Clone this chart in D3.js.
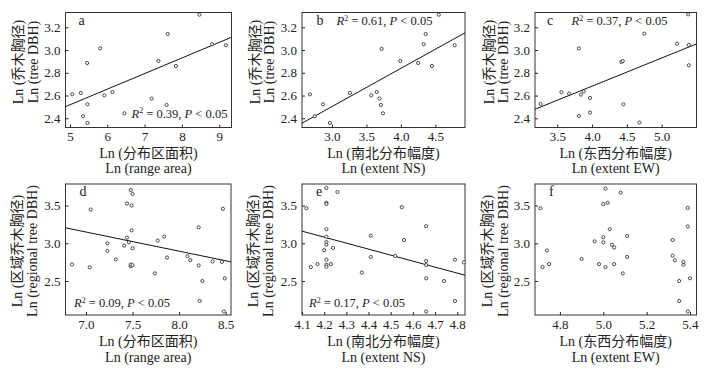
<!DOCTYPE html>
<html>
<head>
<meta charset="utf-8">
<script src="https://cdn.jsdelivr.net/npm/d3@7"></script>
<style>
body { margin: 0; background: #fff; }
svg { font-family: "Liberation Serif", "Times New Roman", "Noto Sans CJK SC", serif; }
</style>
</head>
<body>
<svg id="chart" width="714" height="371"></svg>
<script>
// ---- data ----
// a: Ln(range area) vs Ln(tree DBH)
const aX = [5.06, 5.29, 5.46, 5.35, 5.47, 5.47, 5.81, 5.92, 6.14, 6.46, 7.19, 7.37, 7.59, 7.62, 7.84, 8.47, 8.81, 9.18];
const aY = [2.611, 2.623, 2.886, 2.418, 2.523, 2.359, 3.015, 2.602, 2.631, 2.444, 2.573, 2.904, 2.517, 3.141, 2.860, 3.311, 3.051, 3.042];
// b: Ln(extent NS) vs Ln(tree DBH)
const bX = [2.68, 2.75, 2.87, 2.97, 3.26, 3.57, 3.65, 3.69, 3.71, 3.72, 3.74, 3.99, 4.25, 4.33, 4.36, 4.45, 4.55, 4.78];
const bY = [2.611, 2.418, 2.523, 2.359, 2.623, 2.602, 2.631, 2.573, 2.517, 3.010, 2.444, 2.904, 2.886, 3.051, 3.141, 2.860, 3.311, 3.042];
// c: Ln(extent EW) vs Ln(tree DBH)
const cX = [3.26, 3.56, 3.67, 3.81, 3.81, 3.84, 3.88, 3.97, 3.97, 4.42, 4.44, 4.45, 4.75, 4.68, 5.22, 5.38, 5.39, 5.39];
const cY = [2.526, 2.629, 2.617, 3.015, 2.421, 2.608, 2.637, 2.579, 2.450, 2.895, 2.904, 2.523, 3.144, 2.362, 3.056, 3.314, 3.045, 2.866];
// d: Ln(range area) vs Ln(regional tree DBH)
const dX = [6.85, 7.05, 7.04, 7.23, 7.23, 7.32, 7.41, 7.44, 7.44, 7.46, 7.48, 7.48, 7.48, 7.49, 7.49, 7.50, 7.50, 7.50,
            7.74, 7.77, 7.84, 7.87, 8.09, 8.12, 8.21, 8.21, 8.22, 8.25, 8.36, 8.46, 8.47, 8.48, 8.49];
const dY = [2.719, 3.447, 2.680, 3.000, 2.899, 2.785, 2.969, 3.526, 3.075, 3.013, 2.697, 2.719, 3.706, 3.500, 3.171, 3.654, 2.934, 2.710,
            2.601, 3.035, 3.088, 2.811, 2.829, 2.776, 3.211, 2.706, 2.237, 2.500, 2.759, 2.754, 3.456, 2.096, 2.535];
// e: Ln(extent NS) vs Ln(regional tree DBH)
const eX = [4.12, 4.14, 4.17, 4.20, 4.21, 4.21, 4.21, 4.21, 4.21, 4.21, 4.21, 4.21, 4.21, 4.21, 4.23, 4.24, 4.26,
            4.37, 4.41, 4.41, 4.52, 4.55, 4.56, 4.66, 4.66, 4.66, 4.66, 4.66, 4.74, 4.79, 4.83, 4.79];
const eY = [3.464, 2.684, 2.724, 2.908, 3.733, 3.536, 3.520, 3.186, 3.087, 3.016, 2.980, 2.783, 2.715, 2.690, 2.724, 2.939, 3.679,
            2.612, 3.101, 2.818, 2.832, 3.478, 3.043, 3.226, 2.765, 2.711, 2.536, 2.096, 2.500, 2.783, 2.747, 2.235];
// f: Ln(extent EW) vs Ln(regional tree DBH)
const fX = [4.71, 4.74, 4.72, 4.75, 4.90, 4.96, 4.98, 5.00, 5.00, 5.00, 5.01, 5.01, 5.02, 5.03, 5.04, 5.05, 5.05,
            5.08, 5.09, 5.11, 5.11, 5.32, 5.32, 5.33, 5.35, 5.35, 5.37, 5.37, 5.39, 5.39, 5.40, 5.39];
const fY = [3.464, 2.904, 2.684, 2.724, 2.792, 3.025, 2.724, 3.079, 3.012, 3.518, 2.684, 3.724, 3.536, 3.186, 2.980, 2.944, 2.724,
            3.670, 2.601, 3.097, 2.819, 3.043, 2.837, 2.774, 2.500, 2.235, 2.716, 2.752, 3.468, 3.222, 2.537, 2.098];

// fitted lines [intercept, slope]
const fitA = [1.834, 0.137];
const fitB = [1.495, 0.336];
const fitC = [1.692, 0.2476];
const fitD = [4.925, -0.2537];
const fitE = [6.416, -0.794];

const statsA = ["0.39", "0.05"];
const statsB = ["0.61", "0.05"];
const statsC = ["0.37", "0.05"];
const statsD = ["0.09", "0.05"];
const statsE = ["0.17", "0.05"];

// tick labels
const topYTicks = [2.4, 2.6, 2.8, 3.0, 3.2];
const bottomYTicks = [2.5, 3.0, 3.5];
const aXTicks = [5, 6, 7, 8, 9];
const bXTicks = [3.0, 3.5, 4.0, 4.5];
const cXTicks = [3.5, 4.0, 4.5, 5.0];
const dXTicks = [7.0, 7.5, 8.0, 8.5];
const eXTicks = [4.1, 4.2, 4.3, 4.4, 4.5, 4.6, 4.7, 4.8];
const fXTicks = [4.8, 5.0, 5.2, 5.4];

const yLabTop = ["Ln (乔木胸径)", "Ln (tree DBH)"];
const yLabBottom = ["Ln (区域乔木胸径)", "Ln (regional tree DBH)"];
const xLabArea = ["Ln (分布区面积)", "Ln (range area)"];
const xLabNS = ["Ln (南北分布幅度)", "Ln (extent NS)"];
const xLabEW = ["Ln (东西分布幅度)", "Ln (extent EW)"];

// ---- layout ----
const rowTop = { y0: 12.5, y1: 127.5, dom: [2.319, 3.33] };
const rowBot = { y0: 184, y1: 315, dom: [2.05, 3.785] };

const panels = [
    { id: "a", x0: 65.5, x1: 231.5, row: rowTop, xdom: [4.88, 9.33], xs: aX, ys: aY, xt: aXTicks, yt: topYTicks, xfmt: "d",
      fit: fitA, stats: statsA, sx: 131.5, sy: 117.5, lx: 13, xl: xLabArea, yl: yLabTop, ylx: [18, 33] },
    { id: "b", x0: 302, x1: 465, row: rowTop, xdom: [2.565, 4.93], xs: bX, ys: bY, xt: bXTicks, yt: topYTicks, xfmt: ".1f",
      fit: fitB, stats: statsB, sx: 336.5, sy: 25, lx: 14.5, xl: xLabNS, yl: yLabTop, ylx: [255, 269] },
    { id: "c", x0: 535, x1: 696.5, row: rowTop, xdom: [3.18, 5.50], xs: cX, ys: cY, xt: cXTicks, yt: topYTicks, xfmt: ".1f",
      fit: fitC, stats: statsC, sx: 571.5, sy: 25, lx: 12, xl: xLabEW, yl: yLabTop, ylx: [489, 503] },
    { id: "d", x0: 65.5, x1: 231, row: rowBot, xdom: [6.78, 8.557], xs: dX, ys: dY, xt: dXTicks, yt: bottomYTicks, xfmt: ".1f",
      fit: fitD, stats: statsD, sx: 74, sy: 307, lx: 14, xl: xLabArea, yl: yLabBottom, ylx: [17, 32] },
    { id: "e", x0: 302, x1: 465, row: rowBot, xdom: [4.10, 4.835], xs: eX, ys: eY, xt: eXTicks, yt: bottomYTicks, xfmt: ".1f",
      fit: fitE, stats: statsE, sx: 309, sy: 307, lx: 14, xl: xLabNS, yl: yLabBottom, ylx: [253, 268] },
    { id: "f", x0: 535, x1: 696.5, row: rowBot, xdom: [4.685, 5.43], xs: fX, ys: fY, xt: fXTicks, yt: bottomYTicks, xfmt: ".1f",
      fit: null, stats: null, lx: 14, xl: xLabEW, yl: yLabBottom, ylx: [487, 503] },
];

const svg = d3.select("#chart");
const ink = "#222";

function drawPanel(p) {
    const y0 = p.row.y0, y1 = p.row.y1;
    const x = d3.scaleLinear().domain(p.xdom).range([p.x0, p.x1]);
    const y = d3.scaleLinear().domain(p.row.dom).range([y1, y0]);
    const g = svg.append("g").attr("class", "panel-" + p.id);

    // axes with inward ticks
    const gx = g.append("g")
        .attr("transform", `translate(0,${y1})`)
        .call(d3.axisBottom(x).tickValues(p.xt).tickFormat(d3.format(p.xfmt)).tickSize(-3).tickPadding(4.5));
    const gy = g.append("g")
        .attr("transform", `translate(${p.x0},0)`)
        .call(d3.axisLeft(y).tickValues(p.yt).tickFormat(d3.format(".1f")).tickSize(-3).tickPadding(5));
    [gx, gy].forEach(a => {
        a.attr("font-family", null).attr("font-size", 13);
        a.select(".domain").remove();
        a.selectAll("line").attr("stroke", ink);
        a.selectAll("text").attr("fill", ink);
    });

    // frame
    g.append("rect")
        .attr("x", p.x0).attr("y", y0)
        .attr("width", p.x1 - p.x0).attr("height", y1 - y0)
        .attr("fill", "none").attr("stroke", "#333").attr("stroke-width", 1);

    // regression line
    if (p.fit) {
        const clip = "clip-" + p.id;
        g.append("clipPath").attr("id", clip).append("rect")
            .attr("x", p.x0).attr("y", y0).attr("width", p.x1 - p.x0).attr("height", y1 - y0);
        g.append("line")
            .attr("clip-path", `url(#${clip})`)
            .attr("x1", x(p.xdom[0])).attr("y1", y(p.fit[0] + p.fit[1] * p.xdom[0]))
            .attr("x2", x(p.xdom[1])).attr("y2", y(p.fit[0] + p.fit[1] * p.xdom[1]))
            .attr("stroke", "#111").attr("stroke-width", 1);
    }

    // points
    g.append("g").selectAll("circle")
        .data(d3.zip(p.xs, p.ys))
        .join("circle")
        .attr("cx", d => x(d[0])).attr("cy", d => y(d[1]))
        .attr("r", 1.6)
        .attr("fill", "#fff").attr("stroke", ink).attr("stroke-width", 0.8);

    // panel letter
    g.append("text")
        .attr("x", p.x0 + p.lx).attr("y", y0 + 12)
        .attr("font-size", 14).attr("fill", ink)
        .text(p.id);

    // stats annotation
    if (p.stats) {
        const t = g.append("text").attr("x", p.sx).attr("y", p.sy).attr("font-size", 12.5).attr("fill", ink);
        t.append("tspan").attr("font-style", "italic").text("R");
        t.append("tspan").attr("font-size", 8).attr("dy", -4.5).text("2");
        t.append("tspan").attr("dy", 4.5).text(" = " + p.stats[0] + ", ");
        t.append("tspan").attr("font-style", "italic").text("P");
        t.append("tspan").text(" < " + p.stats[1]);
    }

    // x label (two lines)
    const cx = (p.x0 + p.x1) / 2;
    const xly = p.row === rowTop ? [153, 168.5] : [341.5, 357];
    p.xl.forEach((s, i) => {
        g.append("text")
            .attr("x", cx).attr("y", xly[i])
            .attr("text-anchor", "middle").attr("dominant-baseline", "central")
            .attr("font-size", 14).attr("fill", ink)
            .text(s);
    });

    // y label (two lines, rotated)
    const cy = p.row === rowTop ? 62 : 251;
    p.yl.forEach((s, i) => {
        g.append("text")
            .attr("transform", `translate(${p.ylx[i]},${cy}) rotate(-90)`)
            .attr("text-anchor", "middle").attr("dominant-baseline", "central")
            .attr("font-size", 14).attr("fill", ink)
            .text(s);
    });
}

panels.forEach(drawPanel);
</script>
</body>
</html>
